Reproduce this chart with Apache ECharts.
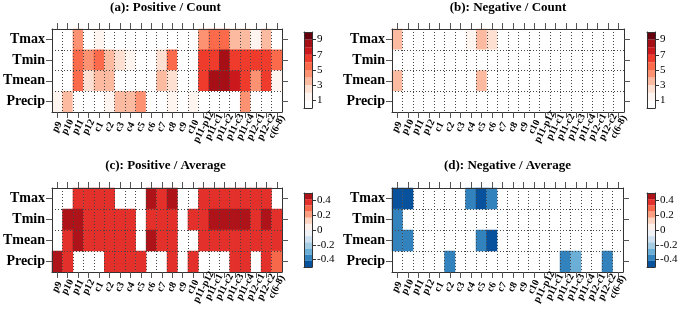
<!DOCTYPE html>
<html>
<head>
<meta charset="utf-8">
<script src="https://cdn.jsdelivr.net/npm/echarts@6/dist/echarts.min.js"></script>
<style>
  html, body { margin: 0; padding: 0; background: #fff; }
  #chart { width: 685px; height: 312px; }
</style>
</head>
<body>
<div id="chart"></div>
<script>
// categories
const cols = ['p9', 'p10', 'p11', 'p12', 'c1', 'c2', 'c3', 'c4', 'c5', 'c6', 'c7', 'c8', 'c9', 'c10',
  'p11-p12', 'p11-c1', 'p11-c2', 'p11-c3', 'p11-c4', 'p12-c1', 'p12-c2', 'c(6-8)'];
const rows = ['Tmax', 'Tmin', 'Tmean', 'Precip'];

// (a) positive / count, one array per row
const posCount = [
  [0, 0, 4, 0, 1, 0, 0, 0, 0, 0, 0, 0, 0, 0, 4, 5, 5, 3, 3, 1, 3, 0],
  [0, 0, 5, 4, 5, 3, 2, 1, 0, 0, 2, 5, 0, 0, 6, 6, 8, 6, 6, 6, 6, 5],
  [0, 0, 5, 2, 3, 3, 0, 0, 0, 0, 3, 2, 0, 0, 6, 8, 8, 7, 6, 4, 6, 1],
  [1, 3, 0, 0, 0, 1, 3, 3, 4, 0, 0, 1, 0, 1, 0, 0, 0, 0, 4, 0, 0, 0]
];
// (b) negative / count
const negCount = [
  [3, 0, 0, 0, 0, 0, 0, 1, 3, 2, 0, 0, 0, 0, 0, 0, 0, 0, 0, 0, 0, 0],
  [0, 0, 0, 0, 0, 0, 0, 0, 0, 0, 0, 0, 0, 0, 0, 0, 0, 0, 0, 0, 0, 0],
  [3, 0, 0, 0, 0, 0, 0, 0, 3, 0, 0, 0, 0, 0, 0, 0, 0, 0, 0, 0, 0, 0],
  [0, 0, 0, 0, 0, 0, 0, 0, 0, 0, 0, 0, 0, 0, 0, 0, 0, 0, 0, 0, 0, 0]
];
// (c) positive / average (null = no cell)
const posAvg = [
  [null, null, 0.37, 0.38, 0.36, 0.37, null, null, null, 0.45, 0.38, 0.46, null, null, 0.37, 0.38, 0.37, 0.36, 0.37, 0.38, 0.37, null],
  [null, 0.45, 0.46, 0.38, 0.37, 0.36, 0.37, 0.38, null, 0.37, 0.38, 0.37, null, 0.36, 0.38, 0.45, 0.46, 0.45, 0.44, 0.38, 0.45, 0.37],
  [null, 0.37, 0.45, 0.38, 0.37, 0.36, 0.37, 0.38, null, 0.46, 0.37, 0.38, null, null, 0.37, 0.38, 0.37, 0.36, 0.38, 0.37, 0.38, 0.37],
  [0.46, 0.37, null, null, null, 0.38, 0.37, 0.36, 0.37, null, null, 0.38, null, 0.37, null, null, null, 0.37, 0.38, null, 0.37, 0.29]
];
// (d) negative / average
const negAvg = [
  [-0.46, -0.45, null, null, null, null, null, -0.38, -0.46, -0.38, null, null, null, null, null, null, null, null, null, null, null, null],
  [-0.38, null, null, null, null, null, null, null, null, null, null, null, null, null, null, null, null, null, null, null, null, null],
  [-0.38, -0.37, null, null, null, null, null, null, -0.38, -0.46, null, null, null, null, null, null, null, null, null, null, null, null],
  [null, null, null, null, null, -0.38, null, null, null, null, null, null, null, null, null, null, -0.38, -0.3, null, null, -0.38, null]
];

// colour keys
const countEdges = [0, 1, 2, 3, 4, 5, 6, 7, 8, 9, 10];
const countColors = ['#FFFFFF', '#FFF5F0', '#FEE0D2', '#FCBBA1', '#FC9272', '#FB6A4A', '#EF3B2C', '#CB181D', '#A50F15', '#67000D'];
const countTicks = [1, 3, 5, 7, 9];
const avgEdges = [-0.5, -0.4167, -0.3333, -0.25, -0.1667, -0.0833, 0, 0.0833, 0.1667, 0.25, 0.3333, 0.4167, 0.5];
const avgColors = ['#08519C', '#3182BD', '#6BAED6', '#A6CCE4', '#CFE0F0', '#EEF2F7',
  '#FEF1EB', '#FDD3C1', '#FC9E80', '#F7684A', '#E3302A', '#AE1319'];
const avgTicks = [-0.4, -0.2, 0, 0.2, 0.4];

const serif = 'Liberation Serif';
const dotted = { color: '#444', width: 1, type: [1, 2] };
const frame = { color: '#333', width: 1 };

const panels = [
  { title: '(a): Positive / Count', data: posCount, kind: 'count', grid: [49, 29, 233, 83], key: [304, 32, 8, 76], titleTop: 1 },
  { title: '(b): Negative / Count', data: negCount, kind: 'count', grid: [392, 29, 232, 83], key: [647, 32, 8, 76], titleTop: 1 },
  { title: '(c): Positive / Average', data: posAvg, kind: 'avg', grid: [49, 188, 233, 84], key: [304, 193, 8, 74], titleTop: 159 },
  { title: '(d): Negative / Average', data: negAvg, kind: 'avg', grid: [392, 188, 231, 84], key: [647, 193, 8, 74], titleTop: 159 }
];

const title = [], grid = [], xAxis = [], yAxis = [], heatSeries = [], keySeries = [];

panels.forEach((p, i) => {
  const [gl, gt, gw, gh] = p.grid;
  const [kl, kt, kw, kh] = p.key;
  title.push({
    text: p.title, left: gl + gw / 2, top: p.titleTop, textAlign: 'center', padding: 0,
    textStyle: { fontFamily: serif, fontWeight: 'bold', fontSize: 13, color: '#000' }
  });
  grid.push({ left: gl, top: gt, width: gw, height: gh });
  grid.push({ left: kl, top: kt, width: kw, height: kh });
  const hg = 2 * i, kg = 2 * i + 1;

  // heatmap axes
  xAxis.push({
    type: 'category', gridIndex: hg, data: cols, position: 'bottom', z: 10,
    axisLine: { show: true, onZero: false, lineStyle: frame },
    axisTick: { show: true, alignWithLabel: true, interval: 0, length: 6, lineStyle: { color: '#555' } },
    axisLabel: {
      interval: 0, rotate: 62, align: 'center', verticalAlign: 'middle', margin: 15,
      fontFamily: serif, fontWeight: 'bold', fontSize: 10, color: '#000'
    },
    splitLine: { show: true, interval: 0, lineStyle: dotted }
  });
  xAxis.push({
    type: 'category', gridIndex: hg, data: cols, position: 'top', z: 10,
    axisLine: { show: true, onZero: false, lineStyle: frame },
    axisTick: { show: true, alignWithLabel: true, interval: 0, length: 6, lineStyle: { color: '#555' } },
    axisLabel: { show: false }, splitLine: { show: false }
  });
  yAxis.push({
    type: 'category', gridIndex: hg, data: rows, inverse: true, position: 'left', z: 10,
    axisLine: { show: true, onZero: false, lineStyle: frame },
    axisTick: { show: true, alignWithLabel: true, interval: 0, length: 6, lineStyle: { color: '#555' } },
    axisLabel: { interval: 0, margin: 7, fontFamily: serif, fontWeight: 'bold', fontSize: 14, color: '#000' },
    splitLine: { show: true, interval: 0, lineStyle: dotted }
  });
  yAxis.push({
    type: 'category', gridIndex: hg, data: rows, inverse: true, position: 'right', z: 10,
    axisLine: { show: true, onZero: false, lineStyle: frame },
    axisTick: { show: true, alignWithLabel: true, interval: 0, length: 6, lineStyle: { color: '#555' } },
    axisLabel: { show: false }, splitLine: { show: false }
  });

  // key axes
  const isCount = p.kind === 'count';
  const edges = isCount ? countEdges : avgEdges;
  const colors = isCount ? countColors : avgColors;
  const ticks = isCount ? countTicks : avgTicks;
  const kmin = edges[0], kmax = edges[edges.length - 1];
  ['bottom', 'top'].forEach(pos => xAxis.push({
    type: 'category', gridIndex: kg, data: ['key'], position: pos, z: 10,
    axisLine: { show: true, onZero: false, lineStyle: frame },
    axisTick: { show: false }, axisLabel: { show: false }, splitLine: { show: false }
  }));
  yAxis.push({
    type: 'value', gridIndex: kg, min: kmin, max: kmax, position: 'right', z: 10,
    axisLine: { show: true, onZero: false, lineStyle: frame },
    axisTick: { show: true, customValues: ticks, length: 4, lineStyle: { color: '#333' } },
    axisLabel: { customValues: ticks, margin: 5, fontFamily: serif, fontSize: 11, color: '#000' },
    splitLine: { show: false }
  });
  yAxis.push({
    type: 'value', gridIndex: kg, min: kmin, max: kmax, position: 'left', z: 10,
    axisLine: { show: true, onZero: false, lineStyle: frame },
    axisTick: { show: false }, axisLabel: { show: false }, splitLine: { show: false }
  });

  // heatmap cells
  const cells = [];
  p.data.forEach((row, r) => row.forEach((v, c) => {
    if (v !== null) cells.push([c, r, v]);
  }));
  heatSeries.push({
    type: 'heatmap', xAxisIndex: 4 * i, yAxisIndex: 4 * i, data: cells,
    itemStyle: { borderWidth: 0 }, emphasis: { disabled: true }
  });

  // colour key bands, stacked from 0 outwards
  const bandIdx = edges.slice(1).map((_, b) => b);
  const up = bandIdx.filter(b => edges[b] >= 0);
  const down = bandIdx.filter(b => edges[b] < 0).reverse();
  up.concat(down).forEach(b => {
    const size = edges[b] >= 0 ? edges[b + 1] - edges[b] : edges[b] - edges[b + 1];
    keySeries.push({
      type: 'bar', xAxisIndex: 4 * i + 2, yAxisIndex: 4 * i + 2, stack: 'key' + i,
      data: [size], barWidth: '100%', silent: true,
      itemStyle: { color: colors[b] }
    });
  });
});

const pieces = (edges, colors) => colors.map((col, b) => (
  b === colors.length - 1
    ? { gte: edges[b], lte: edges[b + 1], color: col }
    : { gte: edges[b], lt: edges[b + 1], color: col }
));

const chart = echarts.init(document.getElementById('chart'));
chart.setOption({
  animation: false,
  backgroundColor: '#fff',
  title: title,
  grid: grid,
  xAxis: xAxis,
  yAxis: yAxis,
  visualMap: [
    { type: 'piecewise', show: false, seriesIndex: [0, 1], pieces: pieces(countEdges, countColors) },
    { type: 'piecewise', show: false, seriesIndex: [2, 3], pieces: pieces(avgEdges, avgColors) }
  ],
  series: heatSeries.concat(keySeries)
});
</script>
</body>
</html>
